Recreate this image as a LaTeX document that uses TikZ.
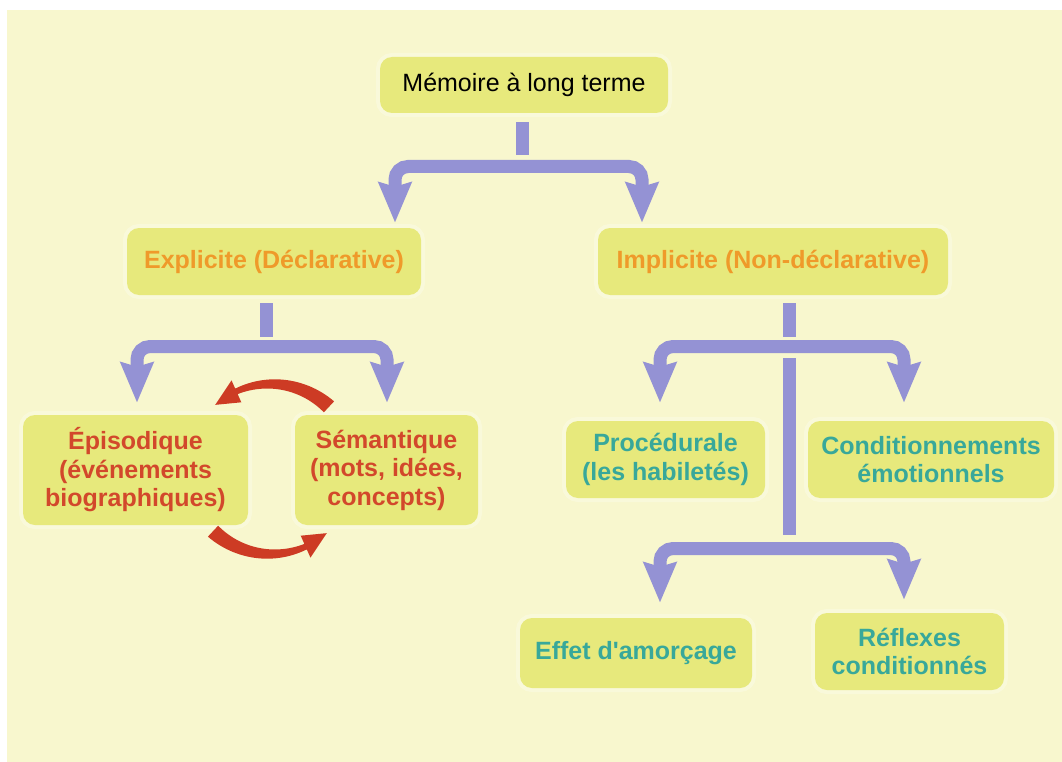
\documentclass[tikz,border=0pt]{standalone}
\usepackage{fontspec}
\setmainfont{Liberation Sans}
\usetikzlibrary{arrows.meta,calc}
\definecolor{bg}{HTML}{F8F7CE}
\definecolor{boxfill}{HTML}{E7E97C}
\definecolor{conncol}{HTML}{9492D4}
\definecolor{orangetxt}{HTML}{EF9A2A}
\definecolor{redtxt}{HTML}{D2482B}
\definecolor{tealtxt}{HTML}{38A89A}
\definecolor{redarr}{HTML}{CD3B24}
\begin{document}
\begin{tikzpicture}[x=1pt,y=-1pt,
  box/.style={fill=boxfill, rounded corners=12pt, inner sep=0pt, align=center,
    preaction={draw=white, draw opacity=0.25, line width=8pt}},
  boldtxt/.style={font=\fontsize{25}{28.5}\selectfont\bfseries},
  plaintxt/.style={font=\fontsize{25}{28.5}\selectfont},
  connline/.style={draw=conncol, line width=13pt},
  branch/.style={connline, rounded corners=13pt,
    {Stealth[length=40pt,width=32pt,inset=4pt]}-{Stealth[length=40pt,width=32pt,inset=4pt]}},
  redshape/.style={fill=redarr}
]
\useasboundingbox (0,0) rectangle (1062,762);
\fill[bg] (7,10) rectangle (1062,762);

% nodes
\node[box, plaintxt, text=black, minimum width=288pt, minimum height=56pt] (top) at (524,85) {Mémoire à long terme};
\node[box, boldtxt, text=orangetxt, minimum width=294pt, minimum height=67pt] (expl) at (274,261.5) {Explicite (Déclarative)};
\node[box, boldtxt, text=orangetxt, minimum width=350pt, minimum height=67pt] (impl) at (773,261.5) {Implicite (Non-déclarative)};
\node[box, boldtxt, text=redtxt, minimum width=225pt, minimum height=110pt] (epis) at (135.5,470) {Épisodique\\(événements\\biographiques)};
\node[box, boldtxt, text=redtxt, minimum width=183pt, minimum height=110pt] (sem) at (386.5,470) {Sémantique\\(mots, idées,\\concepts)};
\node[box, boldtxt, text=tealtxt, minimum width=199pt, minimum height=77pt] (proc) at (665.5,459.5) {Procédurale\\(les habiletés)};
\node[box, boldtxt, text=tealtxt, minimum width=246pt, minimum height=77pt] (cond) at (931,459.5) {Conditionnements\\émotionnels};
\node[box, boldtxt, text=tealtxt, minimum width=232pt, minimum height=70pt] (eff) at (636,653) {Effet d\textquotesingle amorçage};
\node[box, boldtxt, text=tealtxt, minimum width=189pt, minimum height=77pt] (refl) at (909.5,651.5) {Réflexes\\conditionnés};

% junction coordinates
\coordinate (j1) at (522,166.5);
\coordinate (l1) at (395,166.5);
\coordinate (r1) at (642,166.5);
\coordinate (j2) at (266.5,346.5);
\coordinate (l2) at (137,346.5);
\coordinate (r2) at (387,346.5);
\coordinate (j3) at (789,346.5);
\coordinate (l3) at (660,346.5);
\coordinate (r3) at (904,346.5);
\coordinate (j4) at (789,548.5);
\coordinate (l4) at (660,548.5);
\coordinate (r4) at (904,548.5);

% connectors
\draw[connline, shorten <=9pt, shorten >=11.5pt] (j1 |- top.south) -- (j1);
\draw[branch, shorten <=5pt, shorten >=5pt] (l1 |- expl.north) -- (l1) -- (r1) -- (r1 |- impl.north);

\draw[connline, shorten <=8pt, shorten >=9.5pt] (j2 |- expl.south) -- (j2);
\draw[branch, shorten <=12pt, shorten >=12pt] (l2 |- epis.north) -- (l2) -- (r2) -- (r2 |- sem.north);

\draw[connline, shorten <=8pt, shorten >=9.5pt] (j3 |- impl.south) -- (j3);
\draw[branch, shorten <=18pt, shorten >=18pt] (l3 |- proc.north) -- (l3) -- (r3) -- (r3 |- cond.north);

\draw[connline, shorten <=11.5pt, shorten >=13.5pt] (j3) -- (j4);
\draw[branch, shorten <=15pt, shorten >=13pt] (l4 |- eff.north) -- (l4) -- (r4) -- (r4 |- refl.north);

% red cycle arrows
\fill[redshape] plot[domain=47:114,samples=30] ({271+(85+7.5-4.5*(\x-47)/67)*cos(\x)},{469-(85+7.5-4.5*(\x-47)/67)*sin(\x)})
  -- ({271+97*cos(114)},{469-97*sin(114)})
  -- ({271+85*cos(131)},{469-85*sin(131)})
  -- ({271+73*cos(114)},{469-73*sin(114)})
  -- plot[domain=114:47,samples=30] ({271+(85-7.5+4.5*(\x-47)/67)*cos(\x)},{469-(85-7.5+4.5*(\x-47)/67)*sin(\x)})
  -- cycle;
\fill[redshape] plot[domain=227:294,samples=30] ({271+(85+7.5-4.5*(\x-227)/67)*cos(\x)},{469-(85+7.5-4.5*(\x-227)/67)*sin(\x)})
  -- ({271+97*cos(294)},{469-97*sin(294)})
  -- ({271+85*cos(311)},{469-85*sin(311)})
  -- ({271+73*cos(294)},{469-73*sin(294)})
  -- plot[domain=294:227,samples=30] ({271+(85-7.5+4.5*(\x-227)/67)*cos(\x)},{469-(85-7.5+4.5*(\x-227)/67)*sin(\x)})
  -- cycle;
\end{tikzpicture}
\end{document}
